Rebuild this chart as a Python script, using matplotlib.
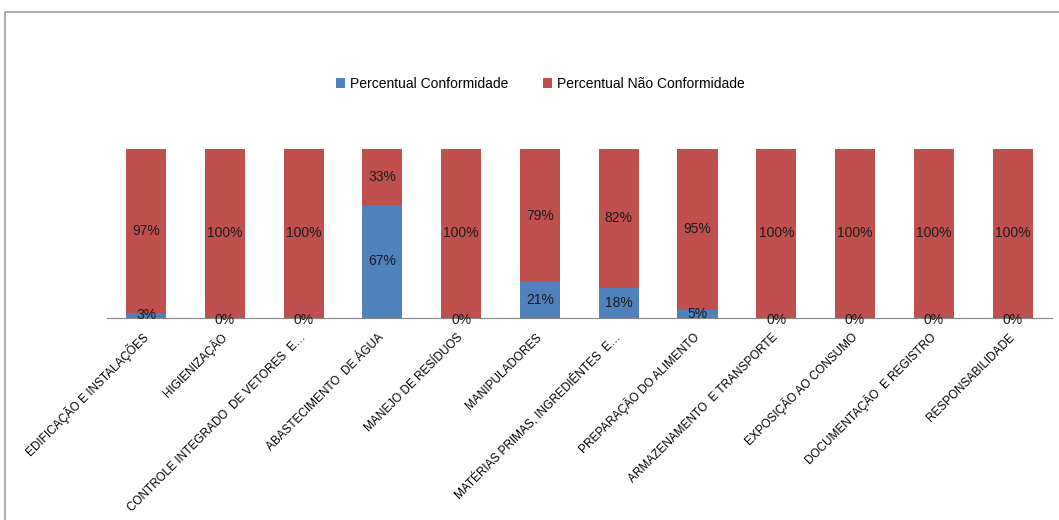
import matplotlib
matplotlib.use('Agg')
import matplotlib.pyplot as plt
from matplotlib.patches import Rectangle, Patch
import numpy as np

plt.rcParams['font.family'] = ['Liberation Sans', 'DejaVu Sans']

categories = [
    'EDIFICAÇÃO E INSTALAÇÕES',
    'HIGIENIZAÇÃO',
    'CONTROLE INTEGRADO  DE VETORES  E…',
    'ABASTECIMENTO  DE ÁGUA',
    'MANEJO DE RESÍDUOS',
    'MANIPULADORES',
    'MATÉRIAS PRIMAS, INGREDIÊNTES  E…',
    'PREPARAÇÃO DO ALIMENTO',
    'ARMAZENAMENTO  E TRANSPORTE',
    'EXPOSIÇÃO AO CONSUMO',
    'DOCUMENTAÇÃO  E REGISTRO',
    'RESPONSABILIDADE',
]
conformidade = [3, 0, 0, 67, 0, 21, 18, 5, 0, 0, 0, 0]
nao_conformidade = [97, 100, 100, 33, 100, 79, 82, 95, 100, 100, 100, 100]

BLUE = '#4F81BD'
RED = '#C0504D'

fig = plt.figure(figsize=(10.59, 5.2), dpi=100, facecolor='white')
ax = fig.add_axes([0.1007, 0.3885, 0.8927, 0.325])

x = np.arange(len(categories))
ax.bar(x, conformidade, width=0.51, color=BLUE, zorder=2)
ax.bar(x, nao_conformidade, width=0.51, bottom=conformidade, color=RED, zorder=2)

# data labels in the middle of each segment
for i, (c, n) in enumerate(zip(conformidade, nao_conformidade)):
    if c > 0 or n == 100:
        ax.text(x[i], c / 2 - (1.2 if c == 0 else 0), '%d%%' % c, ha='center', va='center',
                fontsize=10, color='#1a1a1a', zorder=3)
    ax.text(x[i], c + n / 2, '%d%%' % n, ha='center', va='center',
            fontsize=10, color='#1a1a1a', zorder=3)

ax.set_xlim(-0.5, len(categories) - 0.5)
ax.set_ylim(0, 100)
for s in ['top', 'right', 'left']:
    ax.spines[s].set_visible(False)
ax.spines['bottom'].set_color('#868686')
ax.set_yticks([])
ax.set_xticks(x)
ax.set_xticklabels(categories, rotation=45, ha='right', va='center',
                   rotation_mode='anchor', fontsize=8.5)
ax.tick_params(axis='x', length=0, pad=12.5)

# legend
handles = [Patch(facecolor=BLUE, label='Percentual Conformidade'),
           Patch(facecolor=RED, label='Percentual Não Conformidade')]
fig.legend(handles=handles, loc='center', bbox_to_anchor=(540 / 1059, 1 - 84 / 520), ncol=2,
           frameon=False, fontsize=10, handlelength=0.7, handleheight=0.7,
           handletextpad=0.3, columnspacing=2.5)

# outer chart frame
fig.patches.append(Rectangle((5 / 1059, -0.1), 1.2, 1.1 - 12 / 520, transform=fig.transFigure,
                             fill=False, edgecolor='#a0a0a0', linewidth=1.2))

fig.savefig('out.png', dpi=100, facecolor='white')
